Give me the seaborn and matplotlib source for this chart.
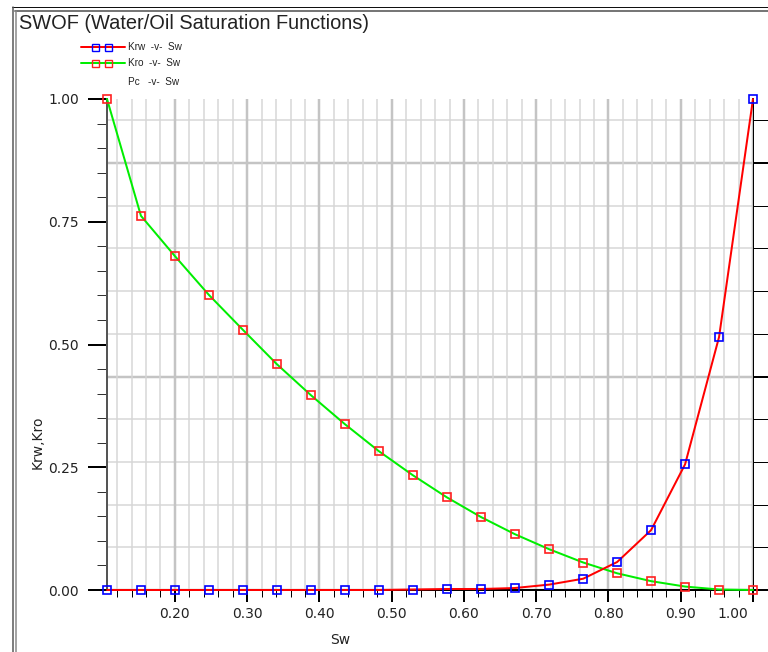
import numpy as np
import pandas as pd
import seaborn as sns
import matplotlib
matplotlib.use("Agg")
import matplotlib.pyplot as plt
from matplotlib.lines import Line2D
from matplotlib.transforms import ScaledTranslation
from matplotlib.ticker import MultipleLocator, NullFormatter, FixedLocator, FixedFormatter

# Water saturation table (SWOF)
sw = [0.106, 0.153, 0.200, 0.247, 0.294, 0.341, 0.388, 0.435, 0.482, 0.529,
      0.576, 0.623, 0.670, 0.718, 0.765, 0.812, 0.859, 0.906, 0.953, 1.000]
krw = [0.000, 0.000, 0.000, 0.000, 0.000, 0.000, 0.000, 0.000, 0.000, 0.001,
       0.002, 0.002, 0.004, 0.011, 0.023, 0.057, 0.122, 0.256, 0.515, 1.000]
kro = [1.000, 0.762, 0.680, 0.601, 0.530, 0.460, 0.397, 0.338, 0.283, 0.234,
       0.189, 0.149, 0.114, 0.083, 0.056, 0.034, 0.018, 0.007, 0.001, 0.000]

x_major = [0.20, 0.30, 0.40, 0.50, 0.60, 0.70, 0.80, 0.90, 1.00]
x_labels = ["0.20", "0.30", "0.40", "0.50", "0.60", "0.70", "0.80", "0.90", "1.00"]
y_major = [0.00, 0.25, 0.50, 0.75, 1.00]
y_labels = ["0.00", "0.25", "0.50", "0.75", "1.00"]

df = pd.DataFrame({"Sw": sw, "Krw": krw, "Kro": kro})

sns.set_theme(style="white")
plt.rcParams["font.family"] = ["DejaVu Sans"]

W, H = 768, 652
fig = plt.figure(figsize=(W / 100, H / 100), dpi=100)
fig.patch.set_facecolor("white")


def fx(x):
    return x / W


def fy(y):
    return 1 - y / H


PT = 72 / 100  # points per pixel

left, right, top, bottom = 107, 753, 99, 590
ax = fig.add_axes([fx(left), fy(bottom), fx(right - left), (bottom - top) / H])
ax2 = ax.twinx()
ax.set_zorder(ax2.get_zorder() + 1)
ax.patch.set_visible(False)

# Capillary-pressure axis (no data), provides the horizontal grid
ax2.set_ylim(0, 11.5)
ax2.yaxis.set_major_locator(MultipleLocator(5))
ax2.yaxis.set_minor_locator(MultipleLocator(1))
ax2.yaxis.set_major_formatter(NullFormatter())
ax2.grid(which="major", axis="y", color="#c4c4c4", lw=2.5 * PT)
ax2.grid(which="minor", axis="y", color="#d6d6d6", lw=1.5 * PT)
ax2.tick_params(axis="y", which="major", length=16 * PT, width=2 * PT, color="black", right=True)
ax2.tick_params(axis="y", which="minor", length=16 * PT, width=1 * PT, color="black", right=True)
for s in ["left", "top", "bottom"]:
    ax2.spines[s].set_visible(False)
ax2.spines["right"].set_color("black")
ax2.spines["right"].set_linewidth(2 * PT)

# Relative permeability curves
sns.lineplot(data=df, x="Sw", y="Krw", ax=ax, color="#ff0000", lw=2 * PT,
             marker="s", markersize=8 * PT, markerfacecolor="none",
             markeredgecolor="#0000ff", markeredgewidth=1.2, clip_on=False, zorder=5)
sns.lineplot(data=df, x="Sw", y="Kro", ax=ax, color="#00ee00", lw=2 * PT,
             marker="s", markersize=8 * PT, markerfacecolor="none",
             markeredgecolor="#ff2020", markeredgewidth=1.2, clip_on=False, zorder=4)

ax.set_xlim(sw[0], 1.0)
ax.set_ylim(0, 1.0)

ax.xaxis.set_major_locator(FixedLocator(x_major))
ax.xaxis.set_major_formatter(FixedFormatter(x_labels))
ax.xaxis.set_minor_locator(MultipleLocator(0.02))
ax.yaxis.set_major_locator(FixedLocator(y_major))
ax.yaxis.set_major_formatter(FixedFormatter(y_labels))
ax.yaxis.set_minor_locator(MultipleLocator(0.05))

ax.grid(which="major", axis="x", color="#c4c4c4", lw=2.5 * PT)
ax.grid(which="minor", axis="x", color="#d6d6d6", lw=1.5 * PT)
ax.grid(which="both", axis="y", visible=False)

ax.tick_params(axis="x", which="major", bottom=True, length=12 * PT, width=2 * PT,
               color="black", labelsize=10, labelcolor="#222222", pad=5 * PT)
ax.tick_params(axis="x", which="minor", bottom=True, length=7 * PT, width=1 * PT, color="black")
ax.tick_params(axis="y", which="major", left=True, length=19 * PT, width=2 * PT,
               color="black", labelsize=10, labelcolor="#222222", pad=9 * PT)
ax.tick_params(axis="y", which="minor", left=True, length=10 * PT, width=1 * PT, color="#333333")

# the 1.00 label sits just inside the right edge
for lbl in ax.get_xticklabels():
    if lbl.get_text() == "1.00":
        lbl.set_horizontalalignment("right")
        lbl.set_transform(lbl.get_transform() + ScaledTranslation(-5 / 100, 0, fig.dpi_scale_trans))

for s in ["top", "right"]:
    ax.spines[s].set_visible(False)
ax.spines["left"].set_color("#555555")
ax.spines["left"].set_linewidth(2 * PT)
ax.spines["bottom"].set_color("black")
ax.spines["bottom"].set_linewidth(2 * PT)

ax.set_xlabel("Sw", fontsize=10, color="#222222")
ax.set_ylabel("Krw,Kro", fontsize=10, color="#222222")
ax.xaxis.set_label_coords((340 - left) / (right - left), (bottom - 633) / (bottom - top))
ax.yaxis.set_label_coords((45 - left) / (right - left), (bottom - 442) / (bottom - top))

# Title
fig.text(fx(19), fy(14), "SWOF (Water/Oil Saturation Functions)", fontsize=14.4,
         family="Liberation Sans", color="#222222", va="top", ha="left")

# Legend
def legend_row(y, line_color, edge_color, label):
    if line_color is not None:
        fig.add_artist(Line2D([fx(81), fx(95), fx(108), fx(125)], [fy(y)] * 4,
                              color=line_color, lw=2 * PT, marker="s", markevery=[1, 2],
                              markersize=7 * PT, markerfacecolor="none",
                              markeredgecolor=edge_color, markeredgewidth=1.0))
    fig.text(fx(128), fy(y), label, fontsize=7.2, family="Liberation Sans",
             color="#222222", va="center", ha="left")


legend_row(47, "#ff0000", "#0000ff", "Krw  -v-  Sw")
legend_row(63, "#00ee00", "#ff2020", "Kro  -v-  Sw")
legend_row(82, None, None, "Pc   -v-  Sw")

# Window frame
fig.add_artist(Line2D([fx(12), fx(W)], [fy(6.5)] * 2, color="#111111", lw=1 * PT))
fig.add_artist(Line2D([fx(15), fx(W)], [fy(10.5)] * 2, color="#777777", lw=2 * PT))
fig.add_artist(Line2D([fx(13), fx(13)], [fy(6.5), fy(H)], color="#555555", lw=1.5 * PT))
fig.add_artist(Line2D([fx(16), fx(16)], [fy(10.5), fy(H)], color="#888888", lw=1.5 * PT))

fig.savefig("out.png", dpi=100, facecolor="white")
